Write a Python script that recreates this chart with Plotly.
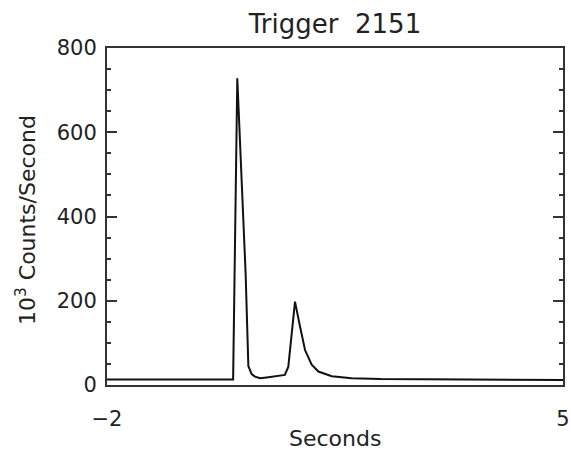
import plotly.graph_objects as go

# Time (s) and rate (10^3 counts/s)
time_s = [-2.0, -0.064, 0.0, 0.064, 0.128, 0.17, 0.22, 0.272, 0.35, 0.45, 0.58, 0.73,
          0.783, 0.886, 0.963, 1.04, 1.142, 1.245, 1.45, 1.756, 2.2, 3.0, 3.73, 5.0]
rate = [13, 13, 728, 495, 265, 45, 26, 20, 16, 18, 21, 24,
        43, 198, 139, 83, 48, 32, 21, 16, 14, 13, 13, 12]

y_ticks = [0, 200, 400, 600, 800]
x_ticks = [-2, 5]

title_text = "Trigger  2151"
x_title = "Seconds"
y_title = "10<sup>3</sup> Counts/Second"

font_family = "DejaVu Sans"
axis_color = "#333333"
text_color = "#222222"

W, H = 571, 451
L, R, T, B = 107, 8, 48, 66

fig = go.Figure()
fig.add_trace(go.Scatter(x=time_s, y=rate, mode="lines",
                         line=dict(color="#111111", width=2),
                         showlegend=False, hoverinfo="skip"))

fig.update_layout(
    width=W, height=H,
    margin=dict(l=L, r=R, t=T, b=B, autoexpand=False),
    paper_bgcolor="white", plot_bgcolor="white",
    font=dict(family=font_family, color=text_color, size=21),
    title=dict(text=title_text, x=(L + (W - R)) / 2 / W, xanchor="center",
               y=1 - 24 / H, yanchor="middle",
               font=dict(size=26, family=font_family, color=text_color)),
)

fig.update_xaxes(
    range=[-2, 5], tickvals=x_ticks, ticktext=["\u22122", "5"],
    ticks="", showgrid=False, zeroline=False, automargin=False,
    showline=True, linecolor=axis_color, linewidth=2, mirror=True,
    tickfont=dict(size=21), ticklabelstandoff=14,
)

fig.update_yaxes(
    range=[0, 800], tickvals=y_ticks, automargin=False,
    ticks="inside", ticklen=10, tickwidth=2, tickcolor=axis_color,
    minor=dict(ticks="inside", ticklen=4, tickwidth=1.5, tickcolor=axis_color, dtick=50),
    showgrid=False, zeroline=False,
    showline=True, linecolor=axis_color, linewidth=2, mirror="ticks",
    tickfont=dict(size=21), ticklabelstandoff=4,
)

fig.add_annotation(text=x_title, xref="paper", yref="paper",
                   x=0.5, y=-(438 - (H - B)) / (H - T - B),
                   xanchor="center", yanchor="middle", showarrow=False,
                   font=dict(size=22, color=text_color))
fig.add_annotation(text=y_title, xref="paper", yref="paper",
                   x=-(L - 26) / (W - L - R), y=((H - B) - 220) / (H - T - B),
                   xanchor="center", yanchor="middle", textangle=-90, showarrow=False,
                   font=dict(size=22, color=text_color))

fig.write_html("out.html",
               config={"displayModeBar": False},
               post_script="document.body.style.margin='0';document.body.style.overflow='hidden';")
